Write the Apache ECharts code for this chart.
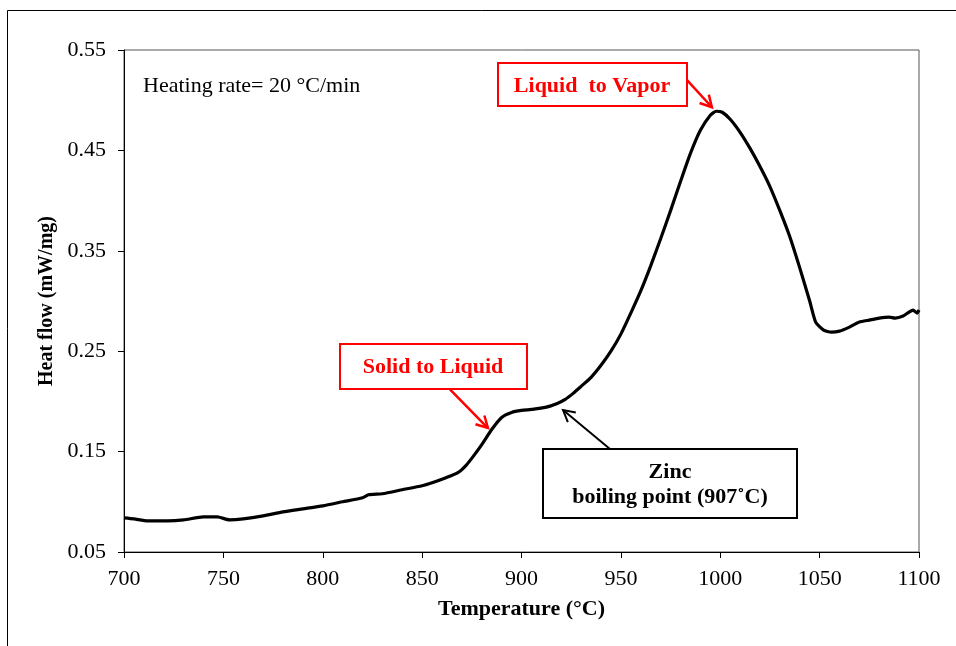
<!DOCTYPE html>
<html>
<head>
<meta charset="utf-8">
<script src="https://cdn.jsdelivr.net/npm/echarts@6/dist/echarts.min.js"></script>
<style>
html,body{margin:0;padding:0;background:#fff;}
#chart{width:956px;height:646px;}
</style>
</head>
<body>
<div id="chart"></div>
<script>
// Temperature (°C)
var temps = [700,705,712,722,730,740,747,753,760,770,780,790,800,810,820,823,830,840,850,855,862,868,872,876,880,885,890,895,900,905,912,918,922,926,930,935,940,945,950,955,960,965,970,975,980,985,990,995,998,1001,1005,1010,1015,1020,1025,1030,1035,1040,1045,1048,1052,1056,1060,1065,1070,1075,1080,1085,1088,1092,1095,1097,1099,1100];
// Heat flow (mW/mg)
var heatFlow = [0.084,0.083,0.081,0.081,0.082,0.085,0.085,0.082,0.083,0.086,0.090,0.093,0.096,0.100,0.104,0.107,0.108,0.112,0.116,0.119,0.124,0.129,0.136,0.146,0.157,0.172,0.184,0.189,0.191,0.192,0.194,0.198,0.202,0.208,0.215,0.224,0.236,0.250,0.267,0.288,0.310,0.335,0.362,0.390,0.419,0.447,0.470,0.485,0.489,0.488,0.481,0.468,0.452,0.434,0.414,0.390,0.364,0.333,0.300,0.279,0.271,0.269,0.270,0.274,0.279,0.281,0.283,0.284,0.283,0.285,0.289,0.291,0.288,0.291];
// Axis ticks
var xTicks = [700,750,800,850,900,950,1000,1050,1100];
var yTicks = [0.05,0.15,0.25,0.35,0.45,0.55];

// Annotation arrows in data coordinates [from, to]
var arrowLV = [[983.3,0.520],[995.8,0.493]];
var arrowSL = [[864.0,0.212],[883.1,0.1735]];
var arrowZn = [[944.5,0.1526],[920.9,0.1914]];

var FONT = '"Liberation Serif","Times New Roman",serif';
var chart = echarts.init(document.getElementById('chart'));
var seriesData = temps.map(function(t,i){return [t, heatFlow[i]];});

chart.setOption({
  animation:false,
  backgroundColor:'#fff',
  grid:{left:124,right:37,top:50,bottom:94,show:true,borderColor:'#555',borderWidth:1,containLabel:false},
  xAxis:{
    type:'value',min:xTicks[0],max:xTicks[xTicks.length-1],interval:50,
    name:'Temperature (°C)',nameLocation:'middle',nameGap:46,
    nameTextStyle:{fontFamily:FONT,fontSize:22,fontWeight:'bold',color:'#000'},
    axisLine:{show:true,lineStyle:{color:'#000',width:1}},
    axisTick:{show:true,inside:false,length:6,lineStyle:{color:'#000'}},
    axisLabel:{margin:16,fontFamily:FONT,fontSize:22,color:'#000',formatter:function(v){return String(v);}},
    splitLine:{show:false}
  },
  yAxis:{
    type:'value',min:yTicks[0],max:yTicks[yTicks.length-1],interval:0.1,
    name:'Heat flow (mW/mg)',nameLocation:'middle',nameGap:60,
    nameTextStyle:{fontFamily:FONT,fontSize:20,fontWeight:'bold',color:'#000'},
    axisLine:{show:true,lineStyle:{color:'#000',width:1}},
    axisTick:{show:true,inside:false,length:6,lineStyle:{color:'#000'}},
    axisLabel:{margin:18,fontFamily:FONT,fontSize:22,color:'#000',formatter:function(v){return v.toFixed(2);}},
    splitLine:{show:false}
  },
  series:[{
    type:'line',data:seriesData,showSymbol:false,smooth:0.2,
    lineStyle:{color:'#000',width:3.2}
  }]
});

function px(p){return chart.convertToPixel({gridIndex:0}, p);}
function arrow(pair,color,w){
  var a=px(pair[0]), b=px(pair[1]);
  var ang=Math.atan2(a[1]-b[1], a[0]-b[0]);
  var L=13, sp=0.5;
  var h1=[b[0]+L*Math.cos(ang+sp), b[1]+L*Math.sin(ang+sp)];
  var h2=[b[0]+L*Math.cos(ang-sp), b[1]+L*Math.sin(ang-sp)];
  return [
    {type:'polyline',shape:{points:[a,b]},style:{stroke:color,lineWidth:w,fill:null},z:10},
    {type:'polyline',shape:{points:[h1,b,h2]},style:{stroke:color,lineWidth:w,fill:null,lineJoin:'miter'},z:10}
  ];
}
function box(x,y,w,h,color){
  return {type:'rect',shape:{x:x,y:y,width:w,height:h},style:{fill:'#fff',stroke:color,lineWidth:2},z:11};
}
function label(x,y,text,color,bold){
  return {type:'text',x:x,y:y,style:{text:text,fill:color,font:(bold?'bold ':'')+'22px '+FONT,textAlign:'center',textVerticalAlign:'middle'},z:12};
}
var g=[];
g.push({type:'line',shape:{x1:7.5,y1:10.5,x2:956,y2:10.5},style:{stroke:'#000',lineWidth:1}});
g.push({type:'line',shape:{x1:7.5,y1:10.5,x2:7.5,y2:646},style:{stroke:'#000',lineWidth:1}});
g.push({type:'text',x:143,y:86,style:{text:'Heating rate= 20 °C/min',fill:'#000',font:'22px '+FONT,textAlign:'left',textVerticalAlign:'middle'},z:12});
g=g.concat(arrow(arrowLV,'#ff0000',2.5));
g=g.concat(arrow(arrowSL,'#ff0000',2.5));
g=g.concat(arrow(arrowZn,'#000',2));
g.push(box(498,63,189,43,'#ff0000'));
g.push(label(592,86,'Liquid  to Vapor','#ff0000',true));
g.push(box(340,344,187,45,'#ff0000'));
g.push(label(433,367,'Solid to Liquid','#ff0000',true));
g.push(box(543,449,254,69,'#000'));
g.push(label(670,472,'Zinc','#000',true));
g.push(label(670,497,'boiling point (907˚C)','#000',true));
chart.setOption({graphic:{elements:g}});
</script>
</body>
</html>
